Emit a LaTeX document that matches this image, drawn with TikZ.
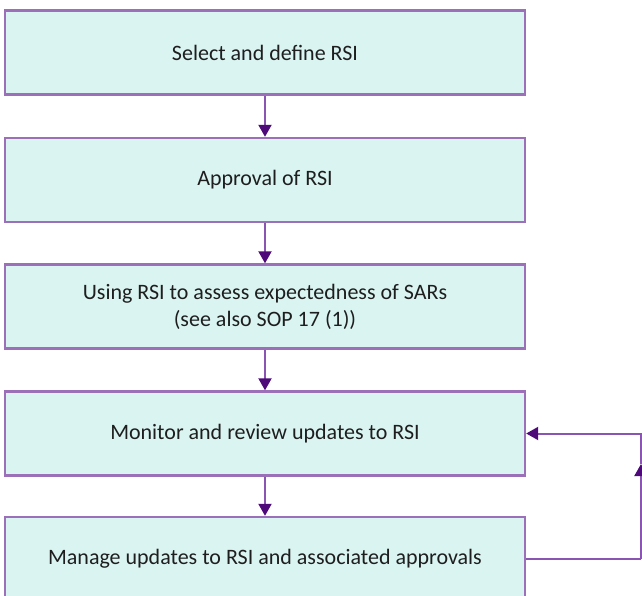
\documentclass[tikz,border=0pt]{standalone}
\usepackage{fontspec}
\setmainfont{Carlito}
\usetikzlibrary{arrows.meta}
\definecolor{boxfill}{HTML}{DAF4F1}
\definecolor{boxline}{HTML}{9C70B8}
\definecolor{arrline}{HTML}{8A55B0}
\definecolor{arrhead}{HTML}{4E0A78}
\definecolor{txt}{HTML}{1E1E1E}
\begin{document}
\begin{tikzpicture}[x=1pt,y=-1pt,
  stepbox/.style={draw=boxline, fill=boxfill, line width=2.4pt,
    minimum width=520pt, minimum height=84pt, inner sep=0pt,
    align=center, text=txt, font=\fontsize{22}{27}\selectfont},
  flow/.style={draw=arrline, line width=2pt,
    -{Triangle[width=13pt,length=12pt,color=arrhead]}},
  plain/.style={draw=arrline, line width=2pt}]
\useasboundingbox (0,0) rectangle (642,596);
\clip (0,0) rectangle (642,596);
\fill[white] (0,0) rectangle (642,596);
\node[stepbox] (s1) at (265,52.5) {Select and define RSI};
\node[stepbox] (s2) at (265,180) {Approval of RSI};
\node[stepbox] (s3) at (265,306.5) {Using RSI to assess expectedness of SARs\\(see also SOP 17 (1))};
\node[stepbox] (s4) at (265,433.5) {Monitor and review updates to RSI};
\node[stepbox] (s5) at (265,559) {Manage updates to RSI and associated approvals};
\coordinate (c1) at (641,559);
\coordinate (c2) at (641,464);
\coordinate (c3) at (641,433.5);
\draw[flow] (s1) -- (s2);
\draw[flow] (s2) -- (s3);
\draw[flow] (s3) -- (s4);
\draw[flow] (s4) -- (s5);
\draw[plain] (s5.east) -- (c1);
\draw[flow] (c1) -- (c2);
\draw[flow] (c2) -- (c3) -- (s4.east);
\end{tikzpicture}
\end{document}
